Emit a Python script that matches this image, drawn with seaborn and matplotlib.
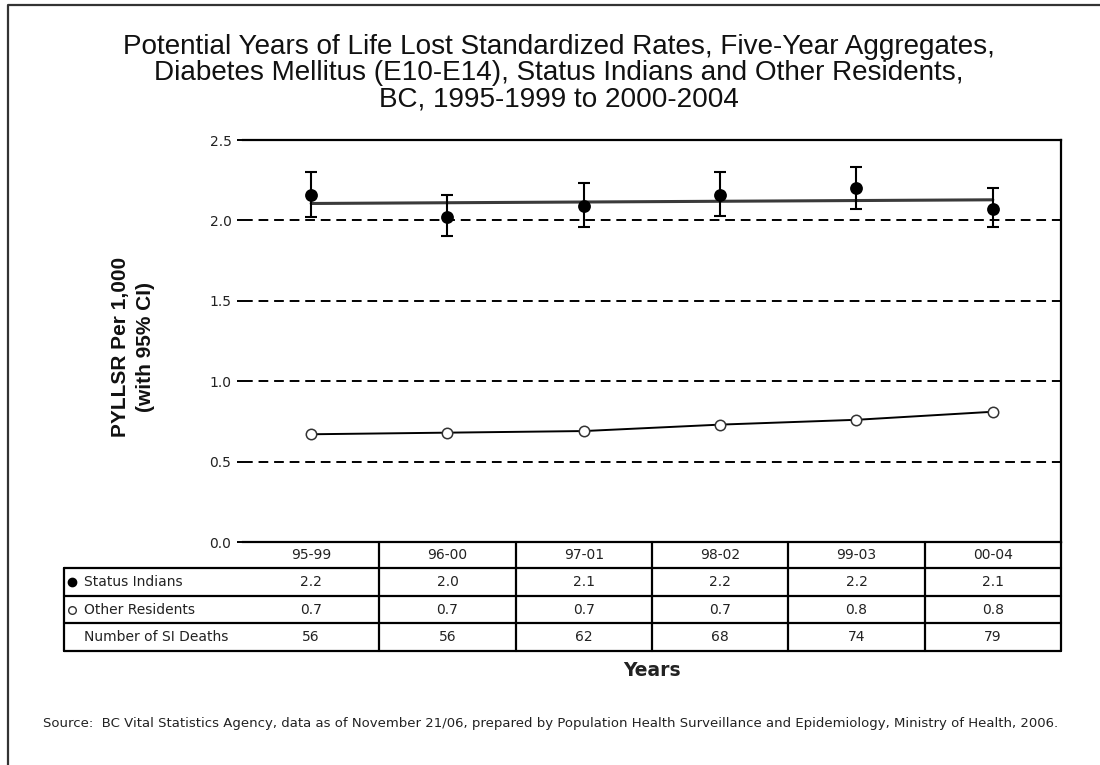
import numpy as np
import pandas as pd
import matplotlib.pyplot as plt
import seaborn as sns
from matplotlib.lines import Line2D
from matplotlib.transforms import blended_transform_factory

# ── données ───────────────────────────────────────────────────
periods    = ["95-99", "96-00", "97-01", "98-02", "99-03", "00-04"]
si_rate    = [2.16, 2.02, 2.09, 2.16, 2.20, 2.07]
si_low     = [2.02, 1.90, 1.96, 2.03, 2.07, 1.96]
si_high    = [2.30, 2.16, 2.23, 2.30, 2.33, 2.20]
other_rate = [0.67, 0.68, 0.69, 0.73, 0.76, 0.81]
si_deaths  = [56, 56, 62, 68, 74, 79]
y_ticks    = [0.0, 0.5, 1.0, 1.5, 2.0, 2.5]

df = pd.DataFrame({"pos": np.arange(len(periods)), "period": periods,
                   "si_rate": si_rate, "si_low": si_low, "si_high": si_high,
                   "other_rate": other_rate, "si_deaths": si_deaths})

sns.set_style("white")
plt.rcParams["font.family"] = ["DejaVu Sans"]

W, H = 1100, 765
fig = plt.figure(figsize=(11, 7.65), dpi=100)


def fx(px):
    return px / W


def fy(py):
    return 1 - py / H


ax = fig.add_axes([fx(243), fy(542), fx(1061) - fx(243), fy(140) - fy(542)])

# ── séries ────────────────────────────────────────────────────
sns.regplot(data=df, x="pos", y="si_rate", scatter=False, ci=None, ax=ax,
            line_kws=dict(color="#3a3a3a", lw=2.2, zorder=3))
ax.errorbar(df["pos"], df["si_rate"],
            yerr=[df["si_rate"] - df["si_low"], df["si_high"] - df["si_rate"]],
            fmt="none", ecolor="black", elinewidth=1.5, capsize=4, capthick=1.5,
            zorder=4)
sns.scatterplot(data=df, x="pos", y="si_rate", color="black", s=85,
                edgecolor="black", linewidth=0, ax=ax, zorder=5)
sns.lineplot(data=df, x="pos", y="other_rate", color="black", lw=1.4,
             marker="o", markersize=7.5, markerfacecolor="white",
             markeredgecolor="#333333", markeredgewidth=1.1, ax=ax, zorder=4)

for v in [0.5, 1.0, 1.5, 2.0]:
    ax.axhline(v, color="black", lw=1.4, ls=(0, (5, 3)), zorder=1)

ax.set_xlim(-0.5, len(periods) - 0.5)
ax.set_ylim(0, 2.5)
ax.set_yticks(y_ticks)
ax.set_yticklabels([f"{t:.1f}" for t in y_ticks], fontsize=10, color="#222222")
ax.set_xticks([])
ax.set_xlabel("")
ax.set_ylabel("")
ax.tick_params(axis="y", length=4.3, width=1.4, color="black", pad=4, left=True)
for side in ["top", "right", "bottom"]:
    ax.spines[side].set_visible(True)
    ax.spines[side].set_color("black")
    ax.spines[side].set_linewidth(1.6)
ax.spines["left"].set_visible(False)

# ── tableau sous le graphique ────────────────────────────────
row_edges = [542, 568, 596, 623, 651]
tab_left = 64
lw_tab = 1.6


def hline(y, x0, x1):
    fig.add_artist(Line2D([fx(x0), fx(x1)], [fy(y), fy(y)],
                          transform=fig.transFigure, color="black", lw=lw_tab))


def vline(x, y0, y1):
    fig.add_artist(Line2D([fx(x), fx(x)], [fy(y0), fy(y1)],
                          transform=fig.transFigure, color="black", lw=lw_tab))


for y in row_edges[1:]:
    hline(y, tab_left, 1061)
vline(tab_left, row_edges[1], row_edges[-1])
vline(1061, row_edges[0], row_edges[-1])

trans = blended_transform_factory(ax.transData, fig.transFigure)
for k in range(1, len(periods)):
    fig.add_artist(Line2D([k - 0.5, k - 0.5], [fy(row_edges[0]), fy(row_edges[-1])],
                          transform=trans, color="black", lw=lw_tab))

row_mid = [(row_edges[i] + row_edges[i + 1]) / 2 for i in range(4)]
rows = [periods,
        [f"{v:.1f}" for v in si_rate],
        [f"{v:.1f}" for v in other_rate],
        [str(v) for v in si_deaths]]
for r, vals in enumerate(rows):
    for i, txt in enumerate(vals):
        fig.text(i, fy(row_mid[r]), txt, transform=trans, ha="center",
                 va="center", fontsize=10, color="#222222")

labels = ["Status Indians", "Other Residents", "Number of SI Deaths"]
for r, lab in enumerate(labels, start=1):
    fig.text(fx(84), fy(row_mid[r]), lab, ha="left", va="center",
             fontsize=10, color="#222222")
fig.add_artist(Line2D([fx(72)], [fy(row_mid[1])], transform=fig.transFigure,
                      marker="o", markersize=6, color="black", lw=0))
fig.add_artist(Line2D([fx(72)], [fy(row_mid[2])], transform=fig.transFigure,
                      marker="o", markersize=5.5, markerfacecolor="white",
                      markeredgecolor="#333333", markeredgewidth=1, lw=0))

# ── textes ───────────────────────────────────────────────────
fig.text(fx(559), fy(73),
         "Potential Years of Life Lost Standardized Rates, Five-Year Aggregates,\n"
         "Diabetes Mellitus (E10-E14), Status Indians and Other Residents,\n"
         "BC, 1995-1999 to 2000-2004",
         ha="center", va="center", fontsize=20.1, linespacing=1.02,
         family=["Liberation Sans", "DejaVu Sans"], color="#111111")
fig.text(fx(133), fy(347), "PYLLSR Per 1,000\n(with 95% CI)", rotation=90,
         ha="center", va="center", fontsize=15, fontweight="bold",
         linespacing=1.4, family=["Liberation Sans", "DejaVu Sans"],
         color="#111111")
fig.text(fx(652), fy(670), "Years", ha="center", va="center", fontsize=13.5,
         fontweight="bold", color="#222222")
fig.text(fx(43), fy(723),
         "Source:  BC Vital Statistics Agency, data as of November 21/06, prepared by "
         "Population Health Surveillance and Epidemiology, Ministry of Health, 2006.",
         ha="left", va="center", fontsize=9.5, color="#222222")

# cadre extérieur
fig.add_artist(Line2D([fx(8), fx(8), fx(1100)], [fy(765), fy(5), fy(5)],
                      transform=fig.transFigure, color="#333333", lw=1.6))

fig.savefig("out.png", dpi=100)
